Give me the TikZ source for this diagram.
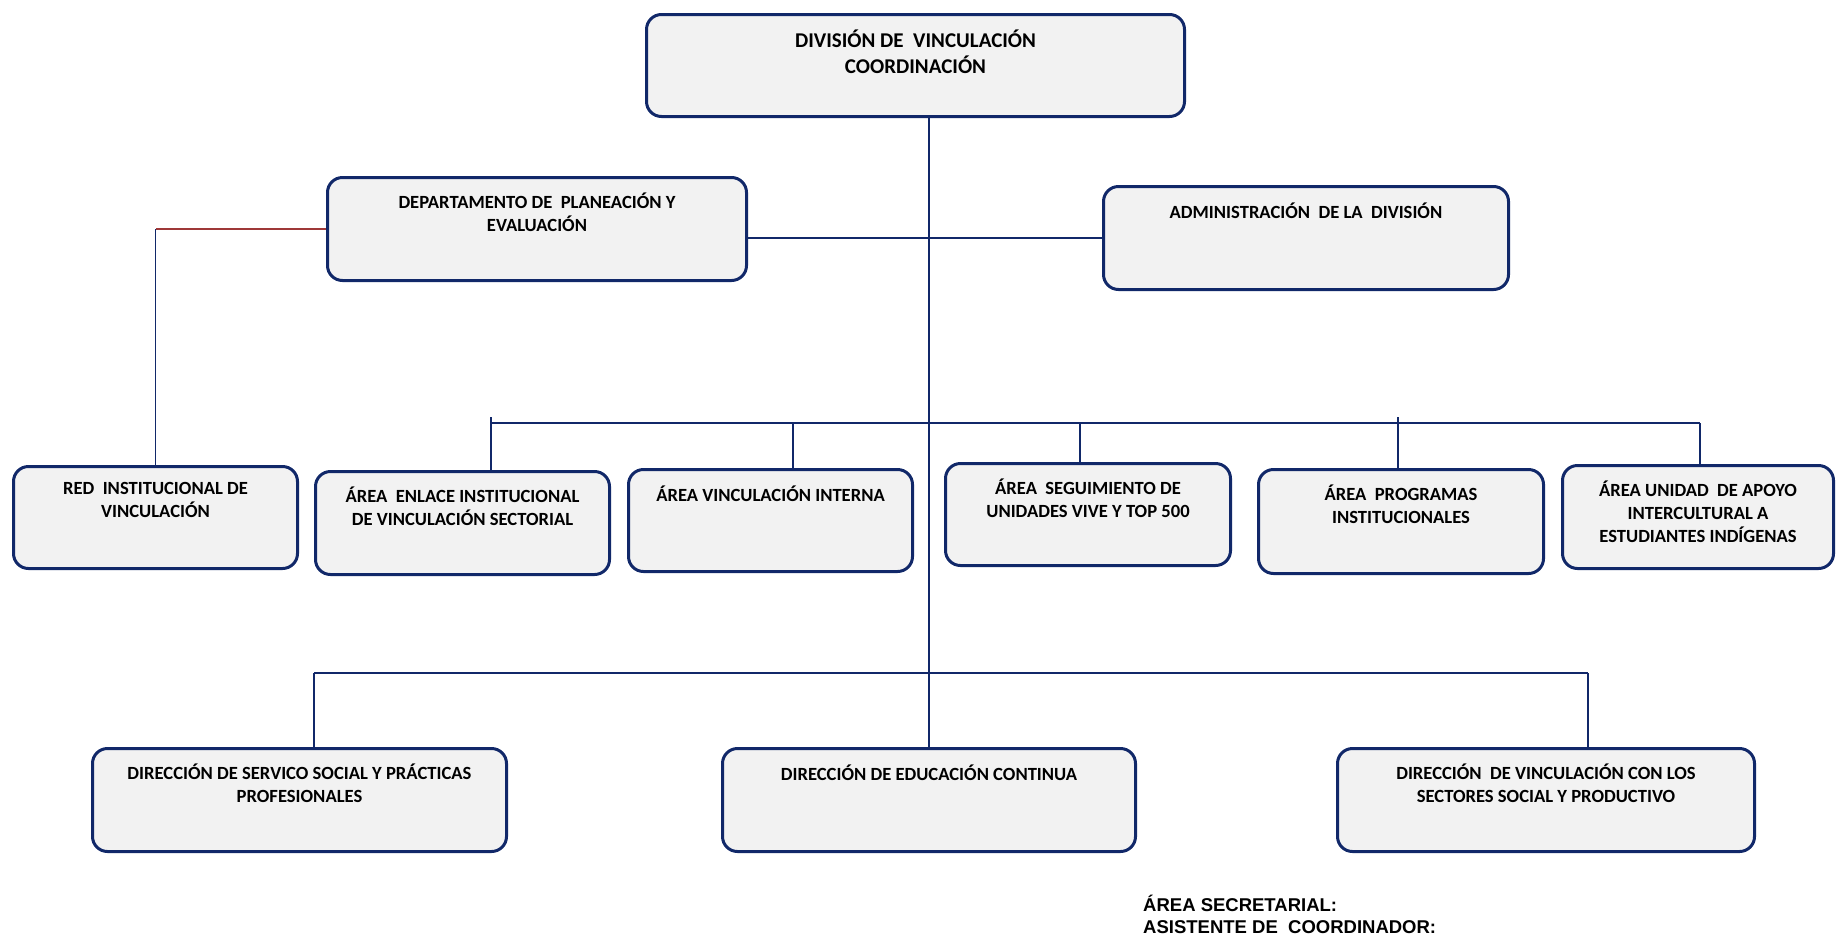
\documentclass[tikz,border=0pt]{standalone}
\usepackage{fontspec}
\setmainfont{Carlito}
\newfontfamily\arialfont{Liberation Sans}
\usetikzlibrary{positioning, calc}

\definecolor{navy}{RGB}{17,40,105}
\definecolor{boxgray}{RGB}{242,242,242}
\definecolor{linkred}{RGB}{158,56,56}

\begin{document}
\begin{tikzpicture}[x=1pt, y=-1pt,
    orgblock/.style = {rectangle, draw=navy, line width=3pt, fill=boxgray,
                       rounded corners=15pt, inner sep=0pt},
    boxlbl/.style   = {anchor=north, yshift=-17pt, inner sep=0pt, align=center,
                       font=\bfseries\fontsize{18.6}{23}\selectfont,
                       execute at begin node=\strut},
    toplbl/.style   = {boxlbl, font=\bfseries\fontsize{21}{26}\selectfont},
    footlbl/.style  = {inner sep=0pt, align=left,
                       font=\arialfont\bfseries\fontsize{18.5}{22}\selectfont},
    trunk/.style    = {line width=1.4pt, draw=navy},
    conn/.style     = {line width=1.8pt, draw=navy},
    busconn/.style  = {line width=2.4pt, draw=navy},
    redconn/.style  = {line width=2.4pt, draw=linkred},
]
\useasboundingbox (0,0) rectangle (1838,935);

%% ============================================================
%% COORDINATES
%% ============================================================
\def\yBusA{423}
\def\yBusB{673}
\def\yBot{800}

%% ============================================================
%% TOP AND SECOND ROW
%% ============================================================
\node[orgblock, minimum width=538, minimum height=102,
      label={[toplbl]north:DIVISIÓN DE~ VINCULACIÓN\\COORDINACIÓN}]
      (div) at (915.5, 65.5) {};
\node[orgblock, minimum width=419, minimum height=103,
      label={[boxlbl]north:DEPARTAMENTO DE~ PLANEACIÓN Y\\EVALUACIÓN}]
      (plan) at (537, 229) {};
\node[orgblock, minimum width=405, minimum height=103,
      label={[boxlbl]north:ADMINISTRACIÓN~ DE LA~ DIVISIÓN}]
      (admin) at (1306, 238) {};

%% ============================================================
%% AREA ROW
%% ============================================================
\node[orgblock, minimum width=284, minimum height=102,
      label={[boxlbl]north:RED~ INSTITUCIONAL DE\\VINCULACIÓN}]
      (red) at (155.5, 517.5) {};
\node[orgblock, minimum width=294, minimum height=103,
      label={[boxlbl]north:ÁREA~ ENLACE INSTITUCIONAL\\DE VINCULACIÓN SECTORIAL}]
      (enl) at (462.5, 523) {};
\node[orgblock, minimum width=284, minimum height=102,
      label={[boxlbl]north:ÁREA VINCULACIÓN INTERNA}]
      (vint) at (770.5, 520.5) {};
\node[orgblock, minimum width=285, minimum height=102,
      label={[boxlbl]north:ÁREA~ SEGUIMIENTO DE\\UNIDADES VIVE Y TOP 500}]
      (seg) at (1088, 514.5) {};
\node[orgblock, minimum width=285, minimum height=104,
      label={[boxlbl]north:ÁREA~ PROGRAMAS\\INSTITUCIONALES}]
      (prog) at (1401, 521.5) {};
\node[orgblock, minimum width=271, minimum height=103,
      label={[boxlbl]north:ÁREA UNIDAD~ DE APOYO\\INTERCULTURAL A\\ESTUDIANTES INDÍGENAS}]
      (unid) at (1698, 517) {};

%% ============================================================
%% DIRECTION ROW
%% ============================================================
\node[orgblock, minimum width=414, minimum height=103,
      label={[boxlbl]north:DIRECCIÓN DE SERVICO SOCIAL Y PRÁCTICAS\\PROFESIONALES}]
      (serv) at (299.5, \yBot) {};
\node[orgblock, minimum width=413, minimum height=103,
      label={[boxlbl]north:DIRECCIÓN DE EDUCACIÓN CONTINUA}]
      (educ) at (929, \yBot) {};
\node[orgblock, minimum width=417, minimum height=103,
      label={[boxlbl]north:DIRECCIÓN~ DE VINCULACIÓN CON LOS\\SECTORES SOCIAL Y PRODUCTIVO}]
      (sect) at (1546, \yBot) {};

%% ============================================================
%% CONNECTIONS
%% ============================================================
% trunk
\draw[trunk] (educ.north |- div.south) -- (educ.north);

% staff link
\draw[busconn] (plan.east |- admin.west) -- (admin.west);

% red link to the network
\coordinate (redturn) at (red.north |- plan.west);
\draw[redconn] (plan.west) -- (redturn);
\draw[conn] (redturn) -- (red.north);

% area bus
\coordinate (busAl) at (491, \yBusA);
\coordinate (busAr) at (1700, \yBusA);
\draw[busconn] (busAl) -- (busAr);
\coordinate (tapEnl) at (491, 417);
\coordinate (tapVint) at (793, \yBusA);
\coordinate (tapSeg) at (1080, \yBusA);
\coordinate (tapProg) at (1398, 417);
\draw[conn] (tapEnl)  -- (tapEnl |- enl.north);
\draw[conn] (tapVint) -- (tapVint |- vint.north);
\draw[conn] (tapSeg)  -- (tapSeg |- seg.north);
\draw[conn] (tapProg) -- (tapProg |- prog.north);
\draw[conn] (busAr)   -- (busAr |- unid.north);

% direction bus
\coordinate (busBl) at (314, \yBusB);
\coordinate (busBr) at (1588, \yBusB);
\draw[busconn] (busBl) -- (busBr);
\draw[conn] (busBl) -- (busBl |- serv.north);
\draw[conn] (busBr) -- (busBr |- sect.north);

%% ============================================================
%% FOOTER
%% ============================================================
\node[footlbl, anchor=north west] (secre) at (1143, 895)
    {ÁREA SECRETARIAL:\\ASISTENTE DE~ COORDINADOR:};

\end{tikzpicture}
\end{document}
